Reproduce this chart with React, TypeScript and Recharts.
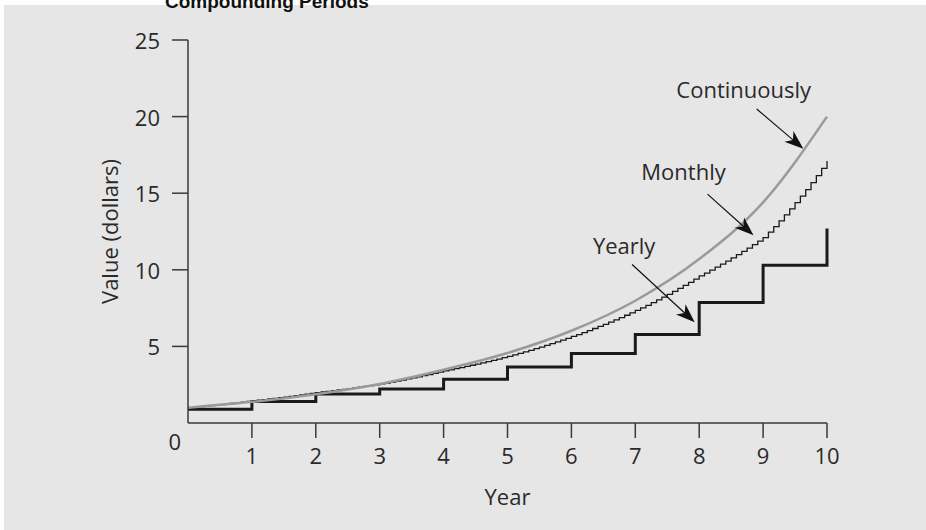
import { LineChart, Line, XAxis, YAxis, ReferenceLine } from "recharts";

// years 0..10
const years = [0, 1, 2, 3, 4, 5, 6, 7, 8, 9, 10];

// compounded once a year (step after each year end)
const yearlyValues = [0.9, 1.4, 1.9, 2.22, 2.85, 3.66, 4.53, 5.78, 7.87, 10.3, 12.7];

// compounded continuously
const continuousValues = [1.0, 1.38, 1.88, 2.55, 3.48, 4.57, 6.02, 7.98, 10.7, 14.4, 20.0];

// compounded monthly, one value per month (months 0..120)
const monthlyValues = [
  1.0, 1.031, 1.064, 1.097, 1.132, 1.167, 1.204, 1.242, 1.281, 1.321, 1.363, 1.406,
  1.45, 1.488, 1.527, 1.568, 1.609, 1.651, 1.695, 1.739, 1.785, 1.832, 1.88, 1.93,
  1.98, 2.022, 2.065, 2.109, 2.154, 2.2, 2.247, 2.295, 2.344, 2.394, 2.445, 2.497,
  2.55, 2.612, 2.675, 2.74, 2.807, 2.875, 2.945, 3.016, 3.089, 3.164, 3.241, 3.32,
  3.4, 3.471, 3.543, 3.616, 3.691, 3.768, 3.846, 3.926, 4.007, 4.091, 4.175, 4.262,
  4.35, 4.446, 4.544, 4.644, 4.746, 4.851, 4.958, 5.067, 5.179, 5.293, 5.409, 5.528,
  5.65, 5.775, 5.903, 6.034, 6.167, 6.304, 6.444, 6.586, 6.732, 6.881, 7.034, 7.19,
  7.35, 7.515, 7.684, 7.857, 8.034, 8.215, 8.4, 8.589, 8.782, 8.98, 9.182, 9.389,
  9.6, 9.787, 9.978, 10.172, 10.37, 10.572, 10.778, 10.988, 11.202, 11.42, 11.643, 11.869,
  12.1, 12.454, 12.818, 13.193, 13.579, 13.976, 14.385, 14.806, 15.239, 15.685, 16.143, 16.616,
  17.1,
];

const xTicks = [1, 2, 3, 4, 5, 6, 7, 8, 9, 10];
const yTicks = [0, 5, 10, 15, 20, 25];

// callout arrows: [start, tip] in data units, label text
const callouts = [
  { text: "Continuously", from: { x: 8.9, y: 20.5 }, to: { x: 9.63, y: 17.9 }, dx: -13, dy: -11 },
  { text: "Monthly", from: { x: 8.13, y: 14.94 }, to: { x: 8.85, y: 12.25 }, dx: -24, dy: -14 },
  { text: "Yearly", from: { x: 6.95, y: 10.35 }, to: { x: 7.93, y: 6.57 }, dx: -8, dy: -10 },
];

const INK = "#2a2a2a";
const AXIS = "#3a3a3a";
const FONT = "'Open Sans', Lato, sans-serif";
const FS = 22;

const yearlyData = years.map((t, i) => ({ t, v: yearlyValues[i] }));
const continuousData = years.map((t, i) => ({ t, v: continuousValues[i] }));
const monthlyData = monthlyValues.map((v, i) => ({ t: i / 12, v }));

function YTick({ x, y, payload }: any) {
  if (payload.value === 0) {
    return (
      <text x={x + 21} y={y + 18} textAnchor="end" dominantBaseline="central" fill={INK} fontSize={FS} fontFamily={FONT}>
        0
      </text>
    );
  }
  return (
    <g>
      <line x1={x + 12} x2={x + 28} y1={y} y2={y} stroke={AXIS} strokeWidth={1.5} />
      <text x={x} y={y} textAnchor="end" dominantBaseline="central" fill={INK} fontSize={FS} fontFamily={FONT}>
        {payload.value}
      </text>
    </g>
  );
}

function Arrow({ x1, y1, x2, y2, text, dx, dy }: any) {
  const a = Math.atan2(y2 - y1, x2 - x1);
  const c = Math.cos(a);
  const s = Math.sin(a);
  const L = 19;
  const W = 7;
  const bx = x2 - L * c;
  const by = y2 - L * s;
  const nx = x2 - L * 0.72 * c;
  const ny = y2 - L * 0.72 * s;
  const pts = [
    `${x2},${y2}`,
    `${bx - W * s},${by + W * c}`,
    `${nx},${ny}`,
    `${bx + W * s},${by - W * c}`,
  ].join(" ");
  return (
    <g>
      <line x1={x1} y1={y1} x2={nx} y2={ny} stroke="#111" strokeWidth={1.2} />
      <polygon points={pts} fill="#111" />
      <text x={x1 + dx} y={y1 + dy} textAnchor="middle" fill={INK} fontSize={FS} fontFamily={FONT}>
        {text}
      </text>
    </g>
  );
}

export default function App() {
  return (
    <div style={{ position: "fixed", left: 0, top: 0, width: 926, height: 530, background: "#fff", overflow: "hidden" }}>
      <div style={{ position: "absolute", left: 4, top: 5, right: 0, bottom: 0, background: "#e6e6e6" }} />
      <svg width={926} height={30} style={{ position: "absolute", left: 0, top: 0 }}>
        <text x={165} y={8} fontSize={19} fontWeight="bold" fontFamily="'Liberation Sans', Arial, sans-serif" fill="#111">
          Compounding Periods
        </text>
      </svg>
      <div style={{ position: "absolute", left: 0, top: 0 }}>
        <LineChart width={926} height={530} margin={{ top: 40, right: 99, bottom: 0, left: 0 }}>
          <XAxis
            type="number"
            dataKey="t"
            domain={[0, 10]}
            ticks={xTicks}
            allowDuplicatedCategory={false}
            height={107}
            tickSize={15}
            tickMargin={10}
            tick={{ fill: INK, fontSize: FS, fontFamily: FONT }}
            axisLine={{ stroke: AXIS, strokeWidth: 1.5 }}
            tickLine={{ stroke: AXIS, strokeWidth: 1.5 }}
            label={{ value: "Year", position: "insideBottom", offset: 25, fill: INK, fontSize: FS, fontFamily: FONT }}
          />
          <YAxis
            type="number"
            domain={[0, 25]}
            ticks={yTicks}
            width={188}
            tickSize={16}
            tickMargin={12}
            tickLine={false}
            tick={<YTick />}
            axisLine={{ stroke: AXIS, strokeWidth: 1.5 }}
            label={{
              value: "Value (dollars)",
              angle: -90,
              position: "insideLeft",
              offset: 110,
              fill: INK,
              fontSize: FS,
              fontFamily: FONT,
              style: { textAnchor: "middle" },
            }}
          />
          <Line
            data={yearlyData}
            dataKey="v"
            type="stepAfter"
            stroke="#1a1a1a"
            strokeWidth={3}
            dot={false}
            activeDot={false}
            isAnimationActive={false}
          />
          <Line
            data={monthlyData}
            dataKey="v"
            type="stepAfter"
            stroke="#1a1a1a"
            strokeWidth={1.3}
            dot={false}
            activeDot={false}
            isAnimationActive={false}
          />
          <Line
            data={continuousData}
            dataKey="v"
            type="monotone"
            stroke="#9a9a9a"
            strokeWidth={2.5}
            dot={false}
            activeDot={false}
            isAnimationActive={false}
          />
          {callouts.map((c) => (
            <ReferenceLine
              key={c.text}
              segment={[c.from, c.to]}
              ifOverflow="visible"
              shape={(p: any) => <Arrow {...p} text={c.text} dx={c.dx} dy={c.dy} />}
            />
          ))}
        </LineChart>
      </div>
    </div>
  );
}
